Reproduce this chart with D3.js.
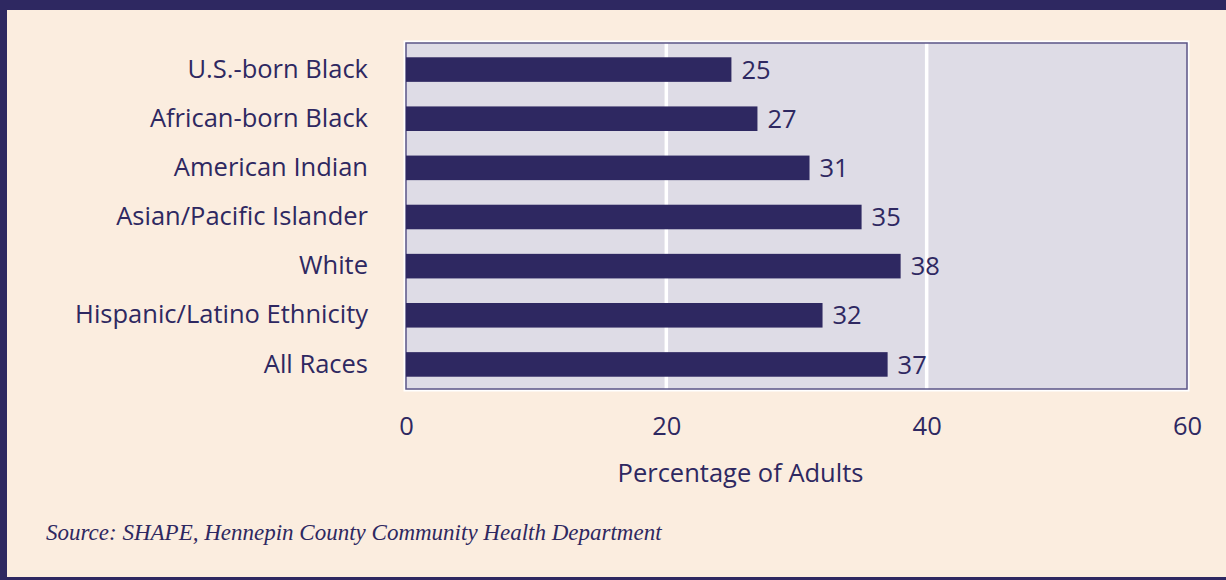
<!DOCTYPE html>
<html>
<head>
<meta charset="utf-8">
<script src="https://cdn.jsdelivr.net/npm/d3@7"></script>
<style>
  html, body { margin: 0; padding: 0; background: #fbeddf; }
  svg { display: block; }
</style>
</head>
<body>
<svg id="chart" width="1226" height="580"></svg>
<script>
// Share of adults by race / ethnicity
const categories = [
  "U.S.-born Black",
  "African-born Black",
  "American Indian",
  "Asian/Pacific Islander",
  "White",
  "Hispanic/Latino Ethnicity",
  "All Races"
];
const values = [25, 27, 31, 35, 38, 32, 37];
const xTicks = [0, 20, 40, 60];
const gridValues = [20, 40];
const axisTitle = "Percentage of Adults";
const sourceNote = "Source: SHAPE, Hennepin County Community Health Department";

const W = 1226, H = 580;
const ink = "#2e2861";
const page = "#fbeddf";
const panel = "#dedce6";
const sans = "'Open Sans', 'Noto Sans', sans-serif";
const fs = 25.5;

const svg = d3.select("#chart");

// page background and dark frame on top, left and bottom
svg.append("rect").attr("width", W).attr("height", H).attr("fill", page);
svg.append("rect").attr("x", 0).attr("y", 0).attr("width", W).attr("height", 10).attr("fill", ink);
svg.append("rect").attr("x", 0).attr("y", 0).attr("width", 7).attr("height", H).attr("fill", ink);
svg.append("rect").attr("x", 0).attr("y", 577).attr("width", W).attr("height", 3).attr("fill", ink);

const plot = { left: 406, right: 1187, top: 43, bottom: 389 };

const x = d3.scaleLinear().domain([0, 60]).range([plot.left, plot.right]);
const y = d3.scaleBand().domain(categories).range([plot.top + 2, plot.bottom]).paddingInner(0.5).paddingOuter(0.25);

// plot panel
svg.append("rect")
  .attr("x", plot.left - 1.5).attr("y", plot.top - 1.5)
  .attr("width", plot.right - plot.left + 3).attr("height", plot.bottom - plot.top + 3)
  .attr("fill", "none").attr("stroke", "#ffffff").attr("stroke-width", 2);
svg.append("rect")
  .attr("x", plot.left).attr("y", plot.top)
  .attr("width", plot.right - plot.left).attr("height", plot.bottom - plot.top)
  .attr("fill", panel);

// white gridlines
svg.append("g").selectAll("line").data(gridValues).join("line")
  .attr("x1", d => x(d)).attr("x2", d => x(d))
  .attr("y1", plot.top).attr("y2", plot.bottom + 1)
  .attr("stroke", "#ffffff").attr("stroke-width", 3.5);

// panel outline
svg.append("rect")
  .attr("x", plot.left).attr("y", plot.top)
  .attr("width", plot.right - plot.left).attr("height", plot.bottom - plot.top)
  .attr("fill", "none").attr("stroke", "#5b5689").attr("stroke-width", 1.5);

// bars
svg.append("g").selectAll("rect").data(categories).join("rect")
  .attr("x", x(0))
  .attr("y", d => y(d))
  .attr("width", (d, i) => x(values[i]) - x(0))
  .attr("height", y.bandwidth())
  .attr("fill", ink);

// value labels
svg.append("g").selectAll("text").data(categories).join("text")
  .attr("x", (d, i) => x(values[i]) + 10)
  .attr("y", d => y(d) + y.bandwidth() / 2)
  .attr("dy", "0.36em")
  .attr("font-family", sans).attr("font-size", fs)
  .attr("fill", ink)
  .text((d, i) => values[i]);

// category axis
const yAxis = svg.append("g")
  .attr("transform", `translate(${plot.left},0)`)
  .call(d3.axisLeft(y).tickSize(0).tickPadding(38));
yAxis.select(".domain").remove();
yAxis.selectAll("text")
  .attr("font-family", sans).attr("font-size", fs).attr("fill", ink);

// value axis
const xAxis = svg.append("g")
  .attr("transform", `translate(0,${plot.bottom})`)
  .call(d3.axisBottom(x).tickValues(xTicks).tickSize(0).tickPadding(28));
xAxis.select(".domain").remove();
xAxis.selectAll("text")
  .attr("font-family", sans).attr("font-size", fs).attr("fill", ink);

svg.append("text")
  .attr("x", (plot.left + plot.right) / 2 - 56)
  .attr("y", 482)
  .attr("text-anchor", "middle")
  .attr("font-family", sans).attr("font-size", fs)
  .attr("fill", ink)
  .text(axisTitle);

svg.append("text")
  .attr("x", 46)
  .attr("y", 540)
  .attr("font-family", "'Liberation Serif', serif")
  .attr("font-style", "italic")
  .attr("font-size", 23)
  .attr("fill", ink)
  .text(sourceNote);
</script>
</body>
</html>
